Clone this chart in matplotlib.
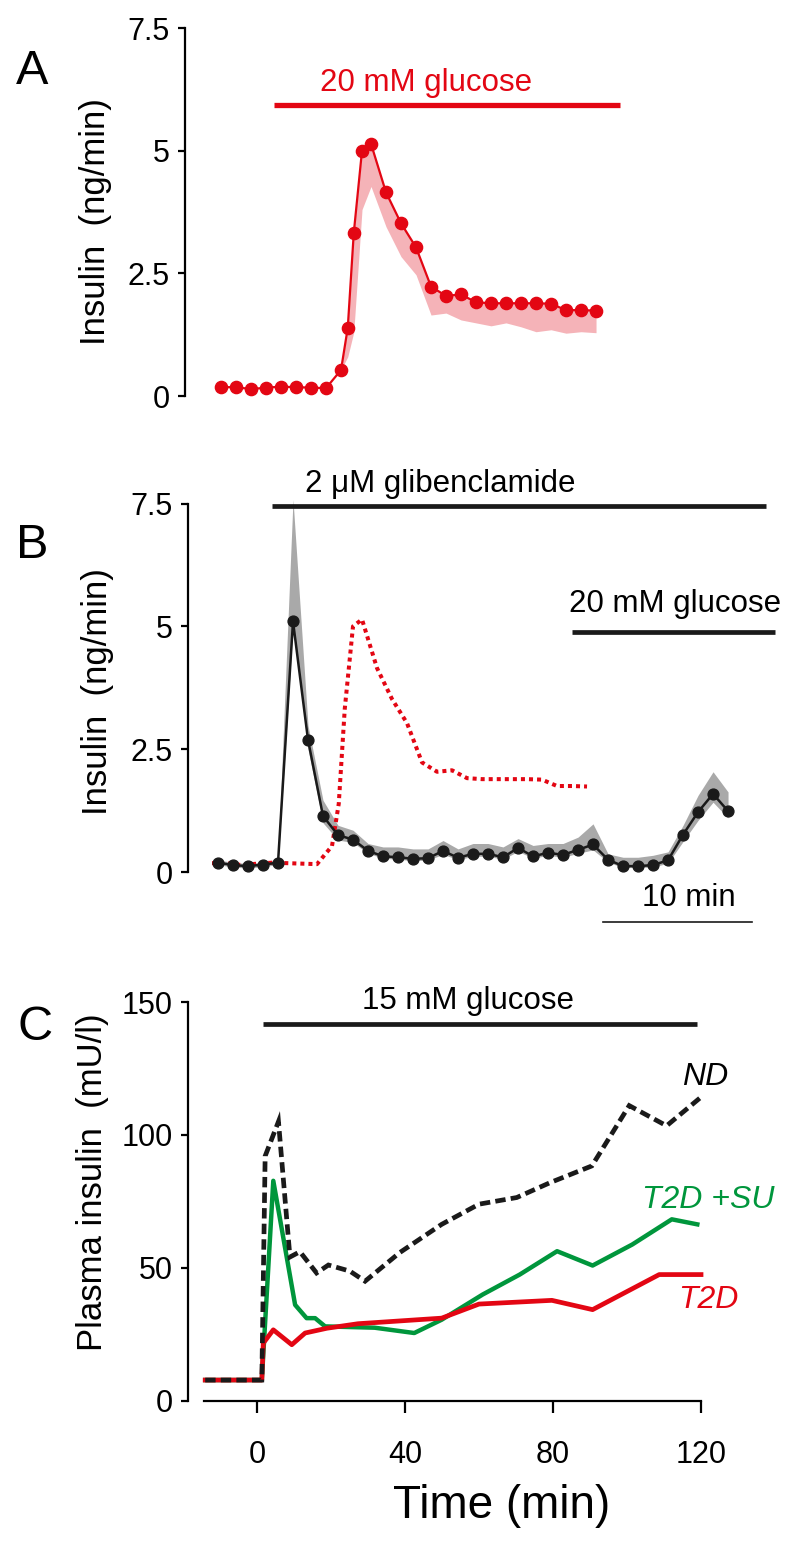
import numpy as np
import matplotlib
matplotlib.use("Agg")
import matplotlib.pyplot as plt

plt.rcParams['font.family'] = ['Liberation Sans', 'DejaVu Sans']

RED = '#e30613'
PINK = '#f5b3b8'
GREEN = '#00963c'
GREY = '#a9a9a9'

# ---- Panel A: perifused islets, 20 mM glucose (min, ng/min) ----
a_time = [0, 1, 2, 3, 4, 5, 6, 7, 8, 8.45, 8.85, 9.4, 10, 11, 12, 13, 14,
          15, 16, 17, 18, 19, 20, 21, 22, 23, 24, 25]
a_mean = [0.18, 0.18, 0.14, 0.17, 0.19, 0.18, 0.17, 0.16, 0.53, 1.39, 3.32,
          5.00, 5.14, 4.15, 3.52, 3.03, 2.23, 2.04, 2.07, 1.91, 1.89, 1.89,
          1.89, 1.89, 1.88, 1.75, 1.75, 1.74]
a_low = [0.18, 0.18, 0.14, 0.17, 0.19, 0.18, 0.17, 0.16, 0.53, 0.80, 1.30,
         3.80, 4.27, 3.45, 2.84, 2.47, 1.65, 1.69, 1.55, 1.49, 1.43, 1.49,
         1.41, 1.31, 1.35, 1.28, 1.31, 1.29]

# ---- Panel B: glibenclamide then 20 mM glucose ----
b_time = list(range(35))
b_mean = [0.19, 0.14, 0.12, 0.15, 0.19, 5.10, 2.69, 1.14, 0.75, 0.66, 0.43,
          0.32, 0.30, 0.27, 0.28, 0.43, 0.29, 0.37, 0.37, 0.30, 0.49, 0.32,
          0.39, 0.35, 0.45, 0.56, 0.25, 0.12, 0.12, 0.14, 0.24, 0.76, 1.22,
          1.59, 1.24]
b_high = [0.24, 0.20, 0.17, 0.20, 0.24, 7.58, 2.98, 1.46, 0.95, 0.85, 0.58,
          0.51, 0.51, 0.47, 0.47, 0.64, 0.47, 0.58, 0.58, 0.51, 0.68, 0.54,
          0.58, 0.58, 0.71, 0.98, 0.37, 0.30, 0.30, 0.34, 0.41, 0.95, 1.56,
          2.04, 1.63]
b_low = [0.15, 0.10, 0.08, 0.11, 0.15, 5.00, 2.50, 1.00, 0.65, 0.60, 0.38,
         0.28, 0.26, 0.23, 0.24, 0.36, 0.25, 0.32, 0.32, 0.26, 0.42, 0.28,
         0.34, 0.30, 0.38, 0.45, 0.20, 0.09, 0.09, 0.10, 0.18, 0.62, 1.05,
         1.42, 1.10]
ctrl_shift = -0.4  # glucose response from A, re-aligned in B

# ---- Panel C: plasma insulin (mU/l) ----
nd_time = [-14, 1.3, 2.2, 5.8, 8.9, 11.6, 16.1, 19.3, 25.1, 29.2, 38.6,
           49.9, 60, 70.2, 79.2, 90.5, 100.6, 110.7, 120]
nd_val = [7.7, 7.7, 92, 105, 54, 56, 48, 51, 48.7, 44.9, 55.7, 66.3, 73.9,
          76.4, 82, 88.3, 111, 103.4, 114.2]
su_time = [-14, 1.3, 4.4, 10.3, 13.4, 15.7, 18.4, 31.8, 42.5, 49.9, 61,
           71, 81.1, 90.7, 101.4, 112.1, 119]
su_val = [7.7, 7.7, 82.7, 36, 31, 31, 27.9, 27.4, 25.4, 30.4, 39.9, 47.4,
          56.2, 50.8, 58.7, 68.2, 66.3]
t2d_time = [-14, 1.3, 1.7, 4.4, 9.4, 13.0, 18.9, 27.3, 49.9, 60, 79.7,
            90.7, 108.7, 120]
t2d_val = [7.7, 7.7, 21.6, 26.6, 21, 25.4, 27.2, 28.9, 31, 36.3, 37.7,
           34.2, 47.4, 47.4]

W, H = 800, 1542
fig = plt.figure(figsize=(W / 100, H / 100), dpi=100)


def box(left, top, right, bottom):
    return [left / W, 1 - bottom / H, (right - left) / W, (bottom - top) / H]


def style_y(ax, ticks, labels):
    for s in ['top', 'right', 'bottom']:
        ax.spines[s].set_visible(False)
    ax.spines['left'].set_linewidth(1.6)
    ax.spines['left'].set_bounds(ticks[0], ticks[-1])
    ax.set_yticks(ticks)
    ax.set_yticklabels(labels)
    ax.tick_params(axis='y', length=5, width=1.6, pad=6, labelsize=22)


# === A ===
axA = fig.add_axes(box(185, 28, 790, 396))
axA.fill_between(a_time, a_low, a_mean, color=PINK, lw=0)
axA.plot(a_time, a_mean, '-o', color=RED, lw=1.6, ms=8.8, clip_on=False)
axA.plot([3.53, 26.6], [5.93, 5.93], color=RED, lw=3.8, solid_capstyle='butt')
axA.text(13.7, 6.38, '20 mM glucose', color=RED, fontsize=22.5,
         ha='center', va='center')
axA.set_xlim(-2.4, 37.93)
axA.set_ylim(0, 7.5)
axA.set_xticks([])
style_y(axA, [0, 2.5, 5, 7.5], ['0', '2.5', '5', '7.5'])

# === B ===
axB = fig.add_axes(box(188, 503.5, 790, 872))
axB.fill_between(b_time, b_low, b_high, color=GREY, lw=0, clip_on=False)
axB.plot([t + ctrl_shift for t in a_time], a_mean, color=RED, lw=2.9,
         ls=(0, (1, 1)))
axB.plot(b_time, b_mean, '-o', color='#1a1a1a', lw=1.8, ms=7.8, clip_on=False)
axB.plot([3.6, 36.5], [7.44, 7.44], color='#1a1a1a', lw=3.4,
         solid_capstyle='butt', clip_on=False)
axB.text(14.8, 7.9, '2 μM glibenclamide', fontsize=22.5, ha='center',
         va='center', clip_on=False)
axB.plot([23.6, 37.1], [4.88, 4.88], color='#1a1a1a', lw=3.4,
         solid_capstyle='butt')
axB.text(30.5, 5.45, '20 mM glucose', fontsize=22.5, ha='center', va='center')
axB.plot([25.67, 35.6], [-1.02, -1.02], color='#1a1a1a', lw=1.2,
         clip_on=False)
axB.text(31.4, -0.52, '10 min', fontsize=22.5, ha='center', va='center',
         clip_on=False)
axB.set_xlim(-2.0, 38.13)
axB.set_ylim(0, 7.5)
axB.set_xticks([])
style_y(axB, [0, 2.5, 5, 7.5], ['0', '2.5', '5', '7.5'])

# === C ===
axC = fig.add_axes(box(188, 1002, 790, 1400.5))
axC.plot(su_time, su_val, color=GREEN, lw=3.2)
axC.plot(t2d_time, t2d_val, color=RED, lw=3.4)
axC.plot(nd_time, nd_val, color='#1a1a1a', lw=3.4, ls=(0, (2.2, 1.1)),
         dash_joinstyle='miter')
axC.plot([1.5, 119], [141.7, 141.7], color='#1a1a1a', lw=3.4,
         solid_capstyle='butt')
axC.text(57, 150.5, '15 mM glucose', fontsize=22.5, ha='center', va='center')
axC.text(121, 121.6, 'ND', fontsize=23, style='italic', ha='center',
         va='center')
axC.text(122, 75.6, 'T2D +SU', fontsize=23, style='italic', color=GREEN,
         ha='center', va='center')
axC.text(122, 37.8, 'T2D', fontsize=23, style='italic', color=RED,
         ha='center', va='center')
axC.set_xlim(-18.65, 144.05)
axC.set_ylim(0, 150)
style_y(axC, [0, 50, 100, 150], ['0', '50', '100', '150'])
axC.spines['bottom'].set_visible(True)
axC.spines['bottom'].set_linewidth(1.6)
axC.spines['bottom'].set_bounds(-14.3, 120)
axC.set_xticks([0, 40, 80, 120])
axC.tick_params(axis='x', length=8.5, width=1.6, pad=20, labelsize=22)

# labels
fig.text(32 / W, 1 - 72 / H, 'A', fontsize=35, ha='center', va='center')
fig.text(32 / W, 1 - 545 / H, 'B', fontsize=35, ha='center', va='center')
fig.text(35 / W, 1 - 1027 / H, 'C', fontsize=35, ha='center', va='center')
fig.text(95 / W, 1 - 222 / H, 'Insulin  (ng/min)', fontsize=25,
         rotation=90, ha='center', va='center')
fig.text(97 / W, 1 - 692 / H, 'Insulin  (ng/min)', fontsize=25,
         rotation=90, ha='center', va='center')
fig.text(93 / W, 1 - 1182 / H, 'Plasma insulin  (mU/l)', fontsize=25,
         rotation=90, ha='center', va='center')
fig.text(502 / W, 1 - 1506 / H, 'Time (min)', fontsize=33, ha='center',
         va='center')

fig.savefig('out.png', dpi=100)
